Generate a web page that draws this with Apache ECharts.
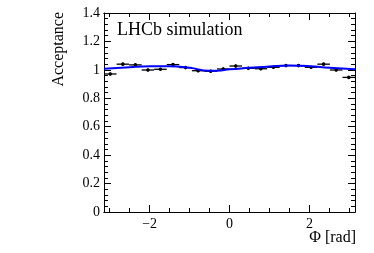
<!DOCTYPE html>
<html><head><meta charset="utf-8">
<script src="https://cdn.jsdelivr.net/npm/echarts@6/dist/echarts.min.js"></script>
<style>html,body{margin:0;padding:0;background:#fff}#c{width:374px;height:253px}</style>
</head><body><div id="c"></div>
<script>
// Bin centres (20 bins over [-pi, pi]) and acceptance values
var PI = Math.PI;
var binCenters = [-2.985, -2.670, -2.356, -2.042, -1.728, -1.414, -1.100, -0.785, -0.471, -0.157,
                  0.157, 0.471, 0.785, 1.100, 1.414, 1.728, 2.042, 2.356, 2.670, 2.985];
var acceptance = [0.971, 1.040, 1.035, 0.999, 1.004, 1.037, 1.016, 0.994, 0.990, 1.006,
                  1.027, 1.011, 1.008, 1.018, 1.030, 1.030, 1.018, 1.040, 0.999, 0.947];
var acceptanceErr = [0.010, 0.010, 0.010, 0.010, 0.010, 0.010, 0.010, 0.010, 0.010, 0.010,
                     0.010, 0.010, 0.010, 0.010, 0.010, 0.010, 0.010, 0.010, 0.010, 0.010];
var binHalfWidth = 0.157;
// Fit curve
var fitX = [-3.1416, -2.5, -2.0, -1.5, -1.0, -0.5, -0.3, 0.0, 0.5, 1.0, 1.5, 2.0, 2.5, 3.1416];
var fitY = [1.008, 1.019, 1.025, 1.026, 1.014, 0.994, 0.994, 1.004, 1.014, 1.024, 1.030, 1.026, 1.015, 1.005];
var xMajorTicks = [-2, 0, 2];
var xMinorTicks = [-3, -2.5, -1.5, -1, -0.5, 0.5, 1, 1.5, 2.5, 3];

var font = "'Liberation Serif', serif";
var pts = binCenters.map(function(x, i){ return [x, acceptance[i], acceptanceErr[i]]; });
var fit = fitX.map(function(x, i){ return [x, fitY[i]]; });

var chart = echarts.init(document.getElementById('c'));
function xAxisDef(pos, ticks, len, labels){
  return {
    type: 'value', min: -PI, max: PI, position: pos,
    axisLine: {show: true, onZero: false, lineStyle: {color: '#000', width: 1}},
    axisTick: {show: true, inside: true, length: len, customValues: ticks, lineStyle: {color: '#000'}},
    splitLine: {show: false},
    axisLabel: labels ? {show: true, customValues: xMajorTicks, color: '#000', fontFamily: font, fontSize: 14, margin: 5,
      formatter: function(v){ return String(v).replace('-', '\u2212'); }} : {show: false}
  };
}
function yAxisDef(pos, labels){
  return {
    type: 'value', min: 0, max: 1.4, interval: 0.2, position: pos,
    axisLine: {show: true, onZero: false, lineStyle: {color: '#000', width: 1}},
    axisTick: {show: true, inside: true, length: 7, lineStyle: {color: '#000'}},
    minorTick: {show: true, splitNumber: 5, length: 4, lineStyle: {color: '#000'}},
    splitLine: {show: false},
    axisLabel: labels ? {show: true, color: '#000', fontFamily: font, fontSize: 14, margin: 4} : {show: false}
  };
}

chart.setOption({
  animation: false,
  grid: {left: 104, right: 19, top: 13, bottom: 41},
  xAxis: [xAxisDef('bottom', xMajorTicks, 7, true), xAxisDef('bottom', xMinorTicks, 4, false),
          xAxisDef('top', xMajorTicks, 7, false), xAxisDef('top', xMinorTicks, 4, false)],
  yAxis: [yAxisDef('left', true), yAxisDef('right', false)],
  graphic: [
    {type: 'text', left: 117, top: 21, style: {text: 'LHCb simulation', font: "18px 'Liberation Serif'", fill: '#000'}},
    {type: 'text', right: 18, top: 230, style: {text: '\u03a6 [rad]', font: "16px 'Liberation Serif'", fill: '#000'}},
    {type: 'text', x: 59, y: 12, rotation: Math.PI/2, style: {text: 'Acceptance', font: "16px 'Liberation Serif'", fill: '#000', align: 'right', verticalAlign: 'middle'}}
  ],
  series: [
    {
      type: 'custom', xAxisIndex: 0, yAxisIndex: 0, z: 2,
      data: pts,
      renderItem: function(params, api){
        var x = api.value(0), y = api.value(1), e = api.value(2);
        var l = api.coord([x - binHalfWidth, y]), r = api.coord([x + binHalfWidth, y]);
        var t = api.coord([x, y + e]), b = api.coord([x, y - e]), c = api.coord([x, y]);
        var st = {stroke: '#000', lineWidth: 1.3};
        return {type: 'group', children: [
          {type: 'line', shape: {x1: l[0], y1: l[1], x2: r[0], y2: r[1]}, style: st},
          {type: 'line', shape: {x1: t[0], y1: t[1], x2: b[0], y2: b[1]}, style: st},
          {type: 'circle', shape: {cx: c[0], cy: c[1], r: 1.8}, style: {fill: '#000'}}
        ]};
      }
    },
    {
      type: 'line', xAxisIndex: 0, yAxisIndex: 0, data: fit, smooth: true, showSymbol: false, z: 3,
      lineStyle: {color: '#0000ff', width: 2}
    }
  ]
});
</script></body></html>
